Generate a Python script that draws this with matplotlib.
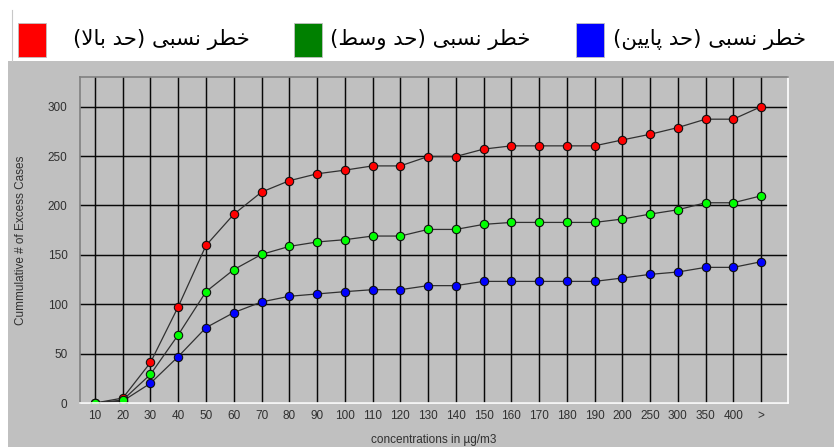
import matplotlib
matplotlib.use('Agg')
import matplotlib.pyplot as plt
from matplotlib.patches import Rectangle
from matplotlib.lines import Line2D

# ---- data ----
categories = ['10', '20', '30', '40', '50', '60', '70', '80', '90', '100', '110', '120', '130',
              '140', '150', '160', '170', '180', '190', '200', '250', '300', '350', '400', '>']
upper = [0, 5, 41, 97.5, 159.5, 191, 213.5, 225, 232, 235.7, 240, 240, 249.5,
         249.5, 257, 260.3, 260.3, 260.3, 260.3, 266.3, 272, 278.8, 287.3, 287.3, 300]
middle = [0, 3, 29, 69, 112.7, 135, 150.4, 158.5, 163, 165.3, 169, 169, 175.7,
          175.7, 180.8, 182.8, 182.8, 182.8, 182.8, 186.2, 191.2, 195.6, 202.7, 202.7, 209.7]
lower = [0, 2, 20, 47, 76.3, 91.5, 102.3, 108, 110.4, 112.7, 114.7, 114.7, 118.8,
         118.8, 123.1, 123.1, 123.1, 123.1, 123.1, 126.5, 130.2, 132.6, 137.3, 137.3, 143]
series_names = ['خطر نسبی (حد بالا)', 'خطر نسبی (حد وسط)', 'خطر نسبی (حد پایین)']
legend_colors = ['#FF0000', '#008000', '#0000FF']
marker_colors = ['#FF0000', '#00FF00', '#0000FF']
y_ticks = [0, 50, 100, 150, 200, 250, 300]


# matplotlib has no arabic shaping, so do a tiny one by hand for the letters used here
FORMS = {
    'ا': (0xFE8D, 0xFE8E, None, None),
    'ب': (0xFE8F, 0xFE90, 0xFE91, 0xFE92),
    'پ': (0xFB56, 0xFB57, 0xFB58, 0xFB59),
    'ح': (0xFEA1, 0xFEA2, 0xFEA3, 0xFEA4),
    'خ': (0xFEA5, 0xFEA6, 0xFEA7, 0xFEA8),
    'د': (0xFEA9, 0xFEAA, None, None),
    'ر': (0xFEAD, 0xFEAE, None, None),
    'س': (0xFEB1, 0xFEB2, 0xFEB3, 0xFEB4),
    'ط': (0xFEC1, 0xFEC2, 0xFEC3, 0xFEC4),
    'ل': (0xFEDD, 0xFEDE, 0xFEDF, 0xFEE0),
    'ن': (0xFEE5, 0xFEE6, 0xFEE7, 0xFEE8),
    'و': (0xFEED, 0xFEEE, None, None),
    'ی': (0xFBFC, 0xFBFD, 0xFBFE, 0xFBFF),
}


def shape_fa(text):
    out = []
    i = 0
    n = len(text)
    while i < n:
        ch = text[i]
        prev = text[i - 1] if i > 0 else ''
        joins_prev = prev in FORMS and FORMS[prev][2] is not None
        if ch == 'ل' and i + 1 < n and text[i + 1] == 'ا':
            out.append(chr(0xFEFC if joins_prev else 0xFEFB))
            i += 2
            continue
        if ch not in FORMS:
            out.append({'(': ')', ')': '('}.get(ch, ch))
            i += 1
            continue
        iso, fin, ini, med = FORMS[ch]
        nxt = text[i + 1] if i + 1 < n else ''
        joins_next = ini is not None and nxt in FORMS
        if joins_prev and joins_next:
            out.append(chr(med))
        elif joins_prev:
            out.append(chr(fin))
        elif joins_next:
            out.append(chr(ini))
        else:
            out.append(chr(iso))
        i += 1
    return ''.join(reversed(out))


W, H = 834, 447
fig = plt.figure(figsize=(W / 100, H / 100), dpi=100)
fig.patch.set_facecolor('white')


def fx(x):
    return x / W


def fy(y):
    return 1 - y / H


# gray panel under the legend strip
fig.add_artist(Rectangle((fx(8), 0), fx(W) - fx(8), fy(61), transform=fig.transFigure,
                         facecolor='#C0C0C0', edgecolor='none', zorder=0))
fig.add_artist(Line2D([fx(12), fx(12)], [fy(10), fy(61)], transform=fig.transFigure,
                      color='#C8C8C8', lw=0.8))

# legend strip
rect_x = [18, 294, 576]
text_x = [73, 330, 613]
for name, col, rx, tx in zip(series_names, legend_colors, rect_x, text_x):
    fig.add_artist(Rectangle((fx(rx), fy(57)), fx(28), 34 / H, transform=fig.transFigure,
                             facecolor=col, edgecolor='#C0C0C0', lw=0.6))
    fig.text(fx(tx), fy(40), shape_fa(name), fontsize=15.3, family='DejaVu Sans',
             ha='left', va='center', color='black')

ax = fig.add_axes([fx(80), fy(403), fx(788) - fx(80), (403 - 77) / H])
ax.set_facecolor('#C0C0C0')

x = list(range(len(categories)))
for vals, mc, z in [(lower, marker_colors[2], 3), (upper, marker_colors[0], 4),
                    (middle, marker_colors[1], 5)]:
    ax.plot(x, vals, color='#303030', lw=0.9, marker='o', ms=6.0,
            markerfacecolor=mc, markeredgecolor='#101010', mew=0.8, zorder=z)

ax.set_xlim(-0.54, 24.97)
ax.set_ylim(0, 330)
ax.set_xticks(x)
ax.set_xticklabels(categories)
ax.set_yticks(y_ticks)
ax.grid(True, color='#080808', lw=1.05, zorder=1)
ax.set_axisbelow(True)
ax.tick_params(length=0, labelsize=8.5, labelcolor='#303030')
ax.tick_params(axis='y', pad=9)
ax.tick_params(axis='x', pad=5)
for lab in ax.get_xticklabels() + ax.get_yticklabels():
    lab.set_family('Liberation Sans')

ax.spines['left'].set_color('#808080')
ax.spines['top'].set_color('#808080')
ax.spines['bottom'].set_color('white')
ax.spines['right'].set_color('white')
for s in ax.spines.values():
    s.set_linewidth(1.2)
    s.set_zorder(6)

ax.set_ylabel('Cummulative # of Excess Cases', fontsize=8.5, family='Liberation Sans',
              color='#303030')
ax.yaxis.set_label_coords(-0.075, 0.5)
ax.set_xlabel('concentrations in µg/m3', fontsize=8.5, family='Liberation Sans',
              color='#303030')
ax.xaxis.set_label_coords(0.5, -0.095)

fig.savefig('out.png', dpi=100)
